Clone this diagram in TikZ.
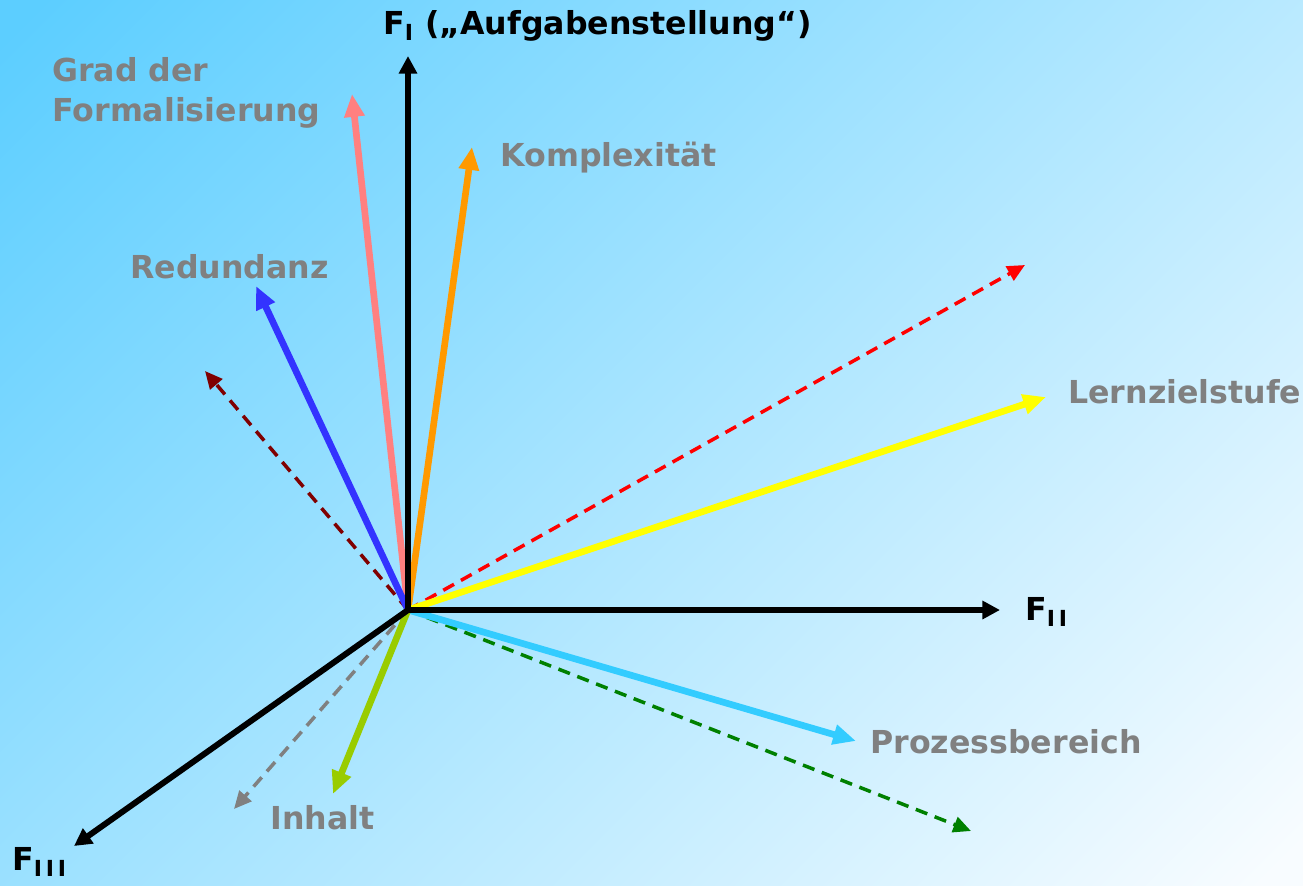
\documentclass[tikz,border=0pt]{standalone}
\usepackage{fontspec}
\setmainfont{DejaVu Sans}
\usetikzlibrary{arrows.meta}
\definecolor{bgtop}{RGB}{92,206,255}
\definecolor{bgbot}{RGB}{248,252,255}
\definecolor{labelgray}{RGB}{128,128,128}
\definecolor{salmon}{RGB}{255,128,128}
\definecolor{orangeaccent}{RGB}{255,153,0}
\definecolor{blueaccent}{RGB}{51,51,255}
\definecolor{darkred}{RGB}{128,0,0}
\definecolor{yellowaccent}{RGB}{255,255,0}
\definecolor{cyanaccent}{RGB}{51,204,255}
\definecolor{darkgreen}{RGB}{0,128,0}
\definecolor{limeaccent}{RGB}{153,204,0}

\begin{document}
\begin{tikzpicture}[x=0.02cm, y=-0.02cm,
  axis/.style={line width=3.4pt, -{Triangle[length=10pt, width=10pt]}},
  factor/.style={line width=3.8pt, -{Triangle[length=13pt, width=11pt]}},
  hidden/.style={line width=2pt, dash pattern=on 7pt off 4.5pt, -{Triangle[length=10pt, width=9pt]}},
  lbl/.style={font=\fontsize{18}{23}\selectfont\bfseries, text=labelgray, inner sep=0pt},
  axlbl/.style={font=\fontsize{18}{23}\selectfont\bfseries, text=black, inner sep=0pt}]
  % background
  \useasboundingbox (0,0) rectangle (1303,886);
  \shade[shading=axis, top color=bgtop, bottom color=bgbot, shading angle=45] (-200,-200) rectangle (1503,1086);
  \clip (0,0) rectangle (1303,886);

  \coordinate (O) at (408,610);
  % tips
  \coordinate (fI) at (408,56);
  \coordinate (fII) at (1000,610);
  \coordinate (fIII) at (74,846);
  \coordinate (form) at (352,94);
  \coordinate (komp) at (472,147);
  \coordinate (red) at (256,286);
  \coordinate (dred) at (205,371);
  \coordinate (dr) at (1025,265);
  \coordinate (lern) at (1046,397);
  \coordinate (proz) at (856,741);
  \coordinate (dgr) at (971,831);
  \coordinate (inh) at (333,794);
  \coordinate (gry) at (234,809);

  % dashed ones
  \draw[hidden, darkred] (O) -- (dred);
  \draw[hidden, red] (O) -- (dr);
  \draw[hidden, darkgreen] (O) -- (dgr);
  \draw[hidden, labelgray] (O) -- (gry);
  % factors
  \draw[factor, salmon] (O) -- (form);
  \draw[factor, orangeaccent] (O) -- (komp);
  \draw[factor, blueaccent] (O) -- (red);
  \draw[factor, yellowaccent] (O) -- (lern);
  \draw[factor, cyanaccent] (O) -- (proz);
  \draw[factor, limeaccent] (O) -- (inh);
  % axes
  \draw[axis] (O) -- (fI);
  \draw[axis] (O) -- (fII);
  \draw[axis] (O) -- (fIII);

  % labels
  \node[axlbl, anchor=west] (tI) at (383,26) {F\textsubscript{I} („Aufgabenstellung“)};
  \node[axlbl, anchor=west] (tII) at (1025,612) {F\textsubscript{I\,I}};
  \node[axlbl, anchor=west] (tIII) at (12,862) {F\textsubscript{I\,I\,I}};
  \node[lbl, anchor=west, align=left] (tform) at (52,93) {Grad der\\Formalisierung};
  \node[lbl, anchor=west] (tkomp) at (500,158) {Komplexität};
  \node[lbl, anchor=west] (tred) at (130,267) {Redundanz};
  \node[lbl, anchor=west] (tlern) at (1068,392) {Lernzielstufe};
  \node[lbl, anchor=west] (tproz) at (870,742) {Prozessbereich};
  \node[lbl, anchor=west] (tinh) at (270,818) {Inhalt};
\end{tikzpicture}
\end{document}
